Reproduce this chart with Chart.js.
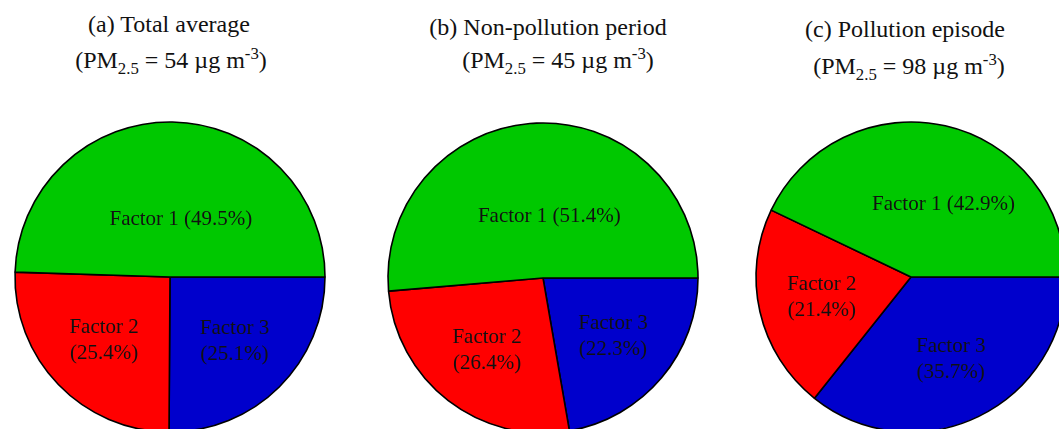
<!DOCTYPE html>
<html>
<head>
<meta charset="utf-8">
<script src="https://cdn.jsdelivr.net/npm/chart.js@4"></script>
<style>
  html, body { margin: 0; padding: 0; background: #fff; overflow: hidden; }
  body { width: 1059px; height: 429px; position: relative; font-family: "Liberation Serif", "Times New Roman", serif; color: #111; }
  .title { position: absolute; white-space: nowrap; transform: translateX(-50%); font-size: 24px; line-height: 24px; }
  .title sub, .title sup { font-size: 70%; line-height: 0; }
  .pie-box { position: absolute; width: 320px; height: 320px; }
</style>
</head>
<body>
<script>
const factors = ["Factor 1", "Factor 2", "Factor 3"];
const totalAverage = [49.5, 25.4, 25.1];
const nonPollution = [51.4, 26.4, 22.3];
const pollutionEpisode = [42.9, 21.4, 35.7];
const panelNames = ["(a) Total average", "(b) Non-pollution period", "(c) Pollution episode"];
const pm25 = [54, 45, 98];

const sliceColors = ["#00c800", "#ff0000", "#0000cc"];

// text inside the slices, drawn from the arc geometry
const sliceLabels = {
  id: "sliceLabels",
  afterDatasetsDraw(chart, args, opts) {
    const ctx = chart.ctx;
    const meta = chart.getDatasetMeta(0);
    const n = meta.data.length;
    ctx.save();
    ctx.font = "21px 'Liberation Serif', 'Times New Roman', serif";
    ctx.fillStyle = "#111";
    ctx.textAlign = "center";
    ctx.textBaseline = "middle";
    meta.data.forEach((arc, i) => {
      const p = arc.getProps(["x", "y", "startAngle", "endAngle", "outerRadius"], true);
      const k = n - 1 - i; // data is drawn reversed
      const mid = (p.startAngle + p.endAngle) / 2;
      const frac = k === 0 ? opts.firstRadius : 0.59;
      const x = p.x + Math.cos(mid) * p.outerRadius * frac + (k === 0 ? opts.firstShift : 0);
      const y = p.y + Math.sin(mid) * p.outerRadius * frac;
      const pct = `(${chart.data.datasets[0].data[i].toFixed(1)}%)`;
      const name = chart.data.labels[i];
      if (k === 0) {
        ctx.fillText(`${name} ${pct}`, x, y);
      } else {
        ctx.fillText(name, x, y - 13);
        ctx.fillText(pct, x, y + 13);
      }
    });
    ctx.restore();
  },
};

function makeChart(idx, values, cx, cy, titleX, titleY, firstRadius, firstShift) {
  document.body.insertAdjacentHTML(
    "beforeend",
    `<div class="title" style="left:${titleX[0]}px; top:${titleY[0]}px">${panelNames[idx]}</div>
     <div class="title" style="left:${titleX[1]}px; top:${titleY[1]}px">(PM<sub>2.5</sub> = ${pm25[idx]} &micro;g m<sup>-3</sup>)</div>
     <div class="pie-box" style="left:${cx - 160}px; top:${cy - 160}px"><canvas id="pie${idx}"></canvas></div>`
  );
  const ctx = document.getElementById(`pie${idx}`).getContext("2d");
  new Chart(ctx, {
    type: "pie",
    data: {
      labels: factors.slice().reverse(),
      datasets: [
        {
          data: values.slice().reverse(),
          backgroundColor: sliceColors.slice().reverse(),
          borderColor: "#000",
          borderWidth: 1.6,
        },
      ],
    },
    options: {
      responsive: true,
      maintainAspectRatio: false,
      animation: false,
      rotation: 90,
      radius: 155,
      layout: { padding: 0 },
      plugins: {
        legend: { display: false },
        tooltip: { enabled: false },
        sliceLabels: { firstRadius: firstRadius, firstShift: firstShift },
      },
    },
    plugins: [sliceLabels],
  });
}

makeChart(0, totalAverage, 170, 277, [169, 171], [12, 48], 0.37, 10);
makeChart(1, nonPollution, 543, 278, [548, 558], [15, 48], 0.4, 9);
makeChart(2, pollutionEpisode, 911, 277, [905, 909], [17, 54], 0.48, 16);
</script>
</body>
</html>
